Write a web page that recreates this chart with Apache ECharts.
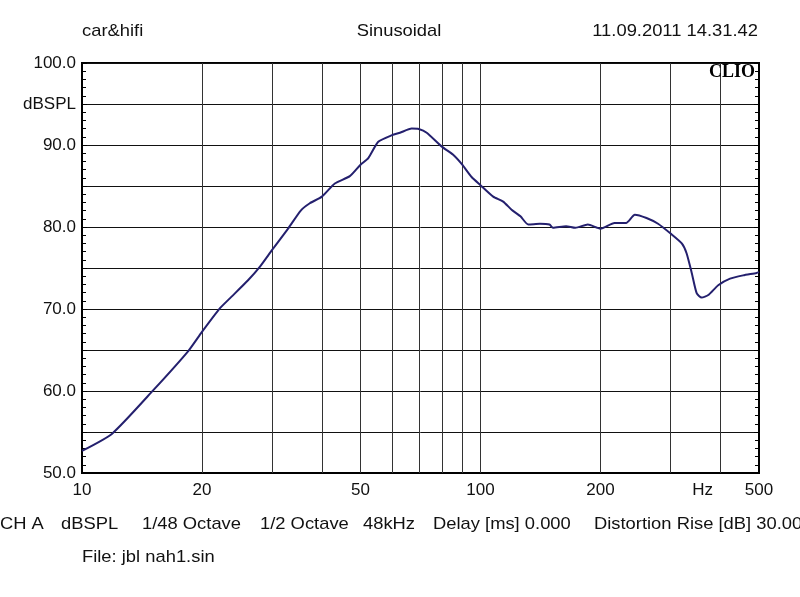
<!DOCTYPE html>
<html>
<head>
<meta charset="utf-8">
<script src="https://cdn.jsdelivr.net/npm/echarts@6/dist/echarts.min.js"></script>
<style>html,body{margin:0;padding:0;background:#fff;}#c{width:800px;height:597px;}</style>
</head>
<body>
<div id="c"></div>
<script>
// Frequency (Hz) and level (dBSPL)
const freqs = [10, 11.9, 15.1, 18.5, 20, 22.2, 23.5, 26.1, 28, 30, 32.9, 35.4, 37.3, 40, 43.1, 47, 50, 52.3, 55.4, 60, 62.8, 67.2, 70, 73.3, 80, 85.4, 90, 95, 100, 107.6, 114, 119.7, 126, 131.8, 141, 149, 152, 164, 173, 186, 200, 217, 232, 244, 261, 279, 300, 320, 329, 339, 349, 359, 373, 395, 423, 456, 493, 500];
const levels = [52.7, 54.8, 60.1, 64.9, 67.2, 70.1, 71.3, 73.5, 75.2, 77.2, 79.8, 82.0, 82.9, 83.7, 85.3, 86.2, 87.6, 88.4, 90.4, 91.2, 91.5, 92.0, 91.95, 91.5, 89.8, 88.8, 87.6, 86.1, 85.1, 83.7, 83.1, 82.1, 81.3, 80.3, 80.4, 80.3, 79.9, 80.1, 79.9, 80.3, 79.8, 80.5, 80.5, 81.5, 81.1, 80.4, 79.2, 78.0, 76.8, 74.4, 71.9, 71.4, 71.7, 72.9, 73.7, 74.1, 74.4, 74.5];
const gridFreqs = [20, 30, 40, 50, 60, 70, 80, 90, 100, 200, 300, 400];
const xTickValues = [10, 20, 50, 100, 200, 361, 500];
const xTickLabels = ['10', '20', '50', '100', '200', 'Hz', '500'];
const yLabels = {100: '100.0', 95: 'dBSPL', 90: '90.0', 80: '80.0', 70: '70.0', 60: '60.0', 50: '50.0'};

const FONT = '"Liberation Sans", Arial, sans-serif';
const chart = echarts.init(document.getElementById('c'), null, {renderer: 'canvas'});

const data = freqs.map((f, i) => [f, levels[i]]);

function txt(x, y, s, align) {
  return {type: 'text', x: x, y: y, scaleX: 1.08, originX: 0,
    style: {text: s, font: '17px ' + FONT, fill: '#111', align: align || 'left', verticalAlign: 'middle'}};
}

chart.setOption({
  animation: false,
  backgroundColor: '#fff',
  grid: {left: 82, top: 63, right: 41, bottom: 124, show: true, borderColor: '#000', borderWidth: 2, backgroundColor: 'transparent'},
  xAxis: {
    type: 'log', logBase: 10, min: 10, max: 500,
    axisLine: {show: true, lineStyle: {color: '#000', width: 2}},
    axisTick: {show: false}, axisLabel: {show: false},
    splitLine: {show: false}, minorTick: {show: false}, minorSplitLine: {show: false}
  },
  yAxis: [{
    type: 'value', min: 50, max: 100, interval: 5,
    axisLine: {show: true, lineStyle: {color: '#000', width: 2}},
    axisTick: {show: true, inside: true, length: 5, lineStyle: {color: '#000'}},
    minorTick: {show: true, splitNumber: 5, length: 4, lineStyle: {color: '#000'}},
    axisLabel: {
      show: true, margin: 6, fontSize: 17, fontFamily: FONT, color: '#111',
      formatter: v => (yLabels[v] !== undefined ? yLabels[v] : '')
    },
    splitLine: {show: true, lineStyle: {color: '#111', width: 1}}
  }, {
    type: 'value', min: 50, max: 100, interval: 5, position: 'right',
    axisLine: {show: true, lineStyle: {color: '#000', width: 2}},
    axisTick: {show: true, inside: true, length: 5, lineStyle: {color: '#000'}},
    minorTick: {show: true, splitNumber: 5, length: 4, lineStyle: {color: '#000'}},
    axisLabel: {show: false}, splitLine: {show: false}
  }],
  series: [{
    type: 'line', data: data, symbol: 'none', smooth: 0.2,
    lineStyle: {color: '#24206e', width: 2}, z: 5,
    markLine: {
      silent: true, symbol: 'none', animation: false,
      label: {show: false},
      lineStyle: {color: '#333', width: 1, type: 'solid'},
      emphasis: {disabled: true},
      data: gridFreqs.map(f => ({xAxis: f}))
    }
  }, {
    type: 'line', data: [], symbol: 'none',
    markLine: {
      silent: true, symbol: 'none', animation: false,
      lineStyle: {color: 'rgba(0,0,0,0)', width: 0},
      label: {show: true, position: 'start', distance: 9, formatter: '{b}', fontSize: 17, fontFamily: FONT, color: '#111'},
      emphasis: {disabled: true},
      data: xTickValues.map((f, i) => ({xAxis: f, name: xTickLabels[i]}))
    }
  }],
  graphic: [
    txt(82, 31, 'car&hifi'),
    txt(399, 31, 'Sinusoidal', 'center'),
    txt(758, 31, '11.09.2011 14.31.42', 'right'),
    {type: 'text', x: 755, y: 72, style: {text: 'CLIO', font: 'bold 18px "Liberation Serif", "Times New Roman", serif', fill: '#000', align: 'right', verticalAlign: 'middle'}, z: 10},
    txt(0, 524, 'CH A'),
    txt(61, 524, 'dBSPL'),
    txt(142, 524, '1/48 Octave'),
    txt(260, 524, '1/2 Octave'),
    txt(363, 524, '48kHz'),
    txt(433, 524, 'Delay [ms] 0.000'),
    txt(594, 524, 'Distortion Rise [dB] 30.00'),
    txt(82, 557, 'File: jbl nah1.sin')
  ]
});
</script>
</body>
</html>
